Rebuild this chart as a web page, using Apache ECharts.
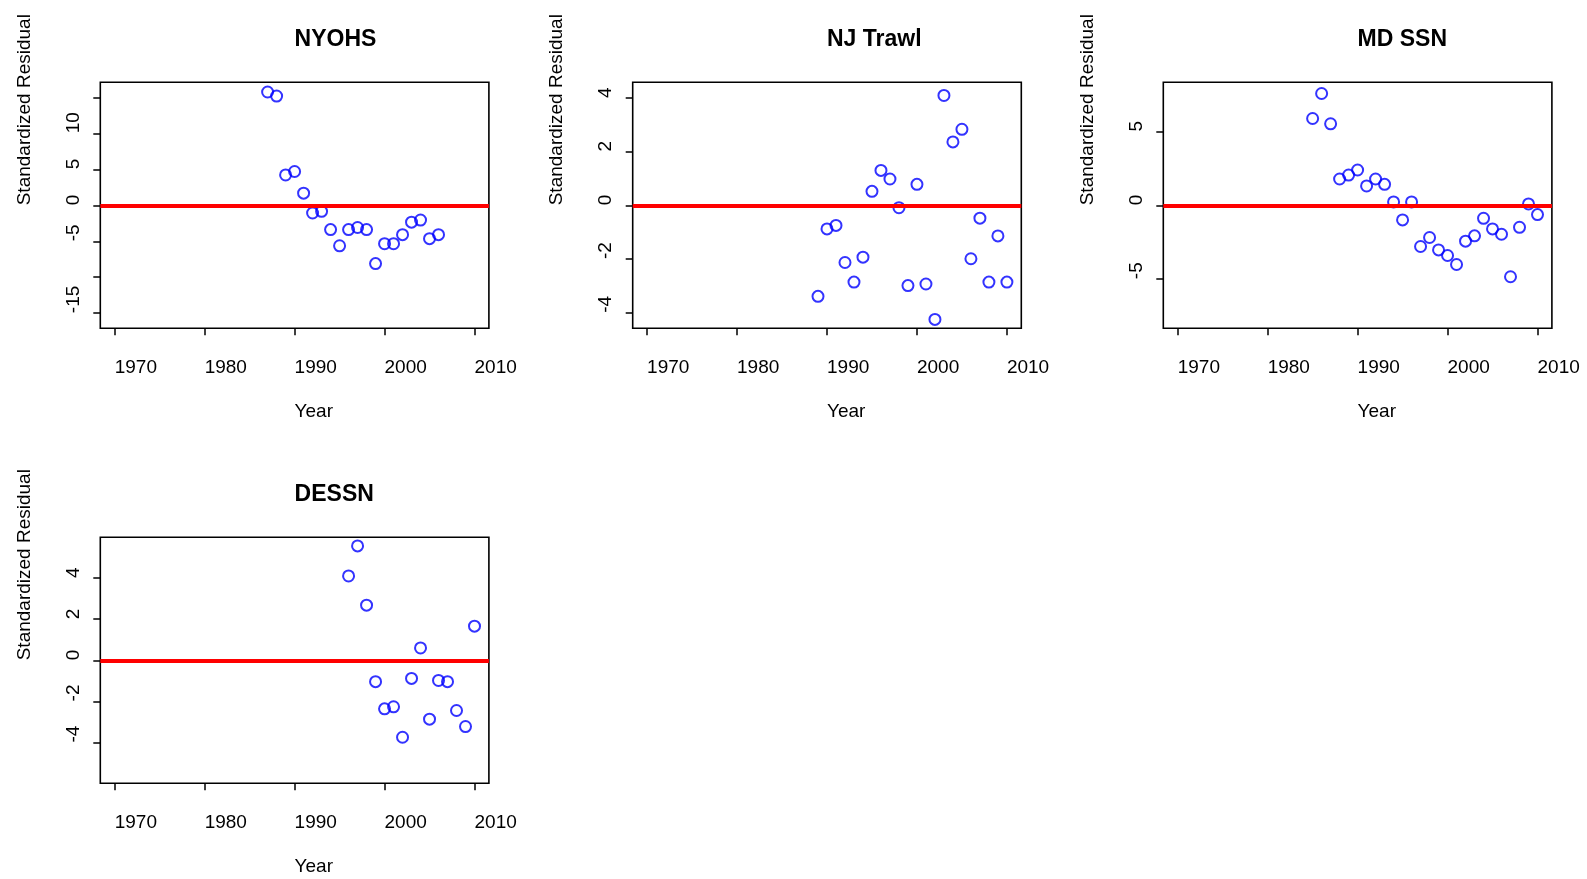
<!DOCTYPE html>
<html>
<head>
<meta charset="utf-8">
<title>Standardized Residuals by Survey</title>
<script src="https://cdn.jsdelivr.net/npm/echarts@6/dist/echarts.min.js"></script>
<style>
  html, body { margin: 0; padding: 0; background: #fff; }
  #chart { width: 1587px; height: 879px; }
</style>
</head>
<body>
<div id="chart"></div>
<script>
// Survey names
const surveyNames = ['NYOHS', 'NJ Trawl', 'MD SSN', 'DESSN'];

// Years and standardized residuals per survey
const nyohsYears = [1987, 1988, 1989, 1990, 1991, 1992, 1993, 1994, 1995, 1996,
                    1997, 1998, 1999, 2000, 2001, 2002, 2003, 2004, 2005, 2006];
const nyohsResid = [15.75, 15.19, 4.22, 4.70, 1.69, -1.07, -0.84, -3.38, -5.63, -3.38,
                    -3.09, -3.38, -8.10, -5.34, -5.34, -4.08, -2.34, -2.05, -4.64, -4.08];

const njYears = [1989, 1990, 1991, 1992, 1993, 1994, 1995, 1996, 1997, 1998, 1999,
                 2000, 2001, 2002, 2003, 2004, 2005, 2006, 2007, 2008, 2009, 2010];
const njResid = [-3.39, -0.88, -0.75, -2.13, -2.86, -1.93, 0.52, 1.30, 0.98, -0.09, -2.99,
                 0.78, -2.93, -4.25, 4.09, 2.36, 2.83, -1.99, -0.48, -2.86, -1.14, -2.86];

const mdYears = [1985, 1986, 1987, 1988, 1989, 1990, 1991, 1992, 1993, 1994, 1995, 1996, 1997,
                 1998, 1999, 2000, 2001, 2002, 2003, 2004, 2005, 2006, 2007, 2008, 2009, 2010];
const mdResid = [5.88, 7.57, 5.52, 1.78, 2.05, 2.39, 1.31, 1.78, 1.42, 0.23, -0.99, 0.23, -2.79,
                 -2.18, -3.02, -3.40, -4.01, -2.43, -2.07, -0.88, -1.60, -1.96, -4.84, -1.49, 0.09, -0.63];

const desYears = [1996, 1997, 1998, 1999, 2000, 2001, 2002, 2003, 2004, 2005,
                  2006, 2007, 2008, 2009, 2010];
const desResid = [4.10, 5.56, 2.68, -1.04, -2.36, -2.26, -3.74, -0.88, 0.60, -2.86,
                  -0.98, -1.04, -2.44, -3.22, 1.66];

// Axis ticks and tick labels
const yearTicks = [1970, 1980, 1990, 2000, 2010];
const yTicksList = [
  [-15, -10, -5, 0, 5, 10, 15],
  [-4, -2, 0, 2, 4],
  [-5, 0, 5],
  [-4, -2, 0, 2, 4]
];
const yLabelsList = [
  [-15, -5, 0, 5, 10],
  [-4, -2, 0, 2, 4],
  [-5, 0, 5],
  [-4, -2, 0, 2, 4]
];
const yLimits = [17.1, 4.58, 8.33, 5.98];
const xLimits = [1968.4, 2011.6];

const yearSets = [nyohsYears, njYears, mdYears, desYears];
const residSets = [nyohsResid, njResid, mdResid, desResid];

// Panel boxes (pixels)
const panels = [
  { left: 100.3, top: 82.3 },
  { left: 632.7, top: 82.3 },
  { left: 1163.3, top: 82.3 },
  { left: 100.3, top: 537.3 }
];
const boxW = 388.6, boxH = 246;

const FONT = '"Liberation Sans", Arial, Helvetica, sans-serif';
const plain = v => String(v);

const chart = echarts.init(document.getElementById('chart'), null, { renderer: 'canvas' });

const option = {
  backgroundColor: '#ffffff',
  animation: false,
  textStyle: { fontFamily: FONT, color: '#000' },
  title: panels.map((p, i) => ({
    text: surveyNames[i],
    left: p.left + boxW / 2,
    top: p.top - 54,
    padding: 0,
    textAlign: 'left',
    textStyle: { fontFamily: FONT, fontWeight: 'bold', fontSize: 23, color: '#000' }
  })),
  grid: panels.map(p => ({
    left: p.left, top: p.top, width: boxW, height: boxH,
    show: true, borderColor: '#000', borderWidth: 1.6,
    backgroundColor: 'transparent',
    containLabel: false,
    outerBoundsMode: 'none'
  })),
  xAxis: panels.map((p, i) => ({
    type: 'value',
    gridIndex: i,
    position: 'bottom',
    min: xLimits[0], max: xLimits[1],
    name: 'Year',
    nameLocation: 'middle',
    nameGap: 74,
    nameTextStyle: { fontFamily: FONT, fontSize: 19, color: '#000', align: 'left', verticalAlign: 'top' },
    axisLine: { show: false, onZero: false },
    axisTick: { show: true, inside: false, length: 7, customValues: yearTicks,
                lineStyle: { color: '#000', width: 1.5 } },
    axisLabel: { show: true, margin: 30, customValues: yearTicks, formatter: plain,
                 fontFamily: FONT, fontSize: 19, color: '#000', align: 'left', verticalAlign: 'top' },
    splitLine: { show: false }
  })),
  yAxis: panels.map((p, i) => ({
    type: 'value',
    gridIndex: i,
    position: 'left',
    min: -yLimits[i], max: yLimits[i],
    name: 'Standardized Residual',
    nameLocation: 'middle',
    nameRotate: 90,
    nameGap: 66,
    nameTextStyle: { fontFamily: FONT, fontSize: 19, color: '#000', align: 'left' },
    axisLine: { show: false, onZero: false },
    axisTick: { show: true, inside: false, length: 7, customValues: yTicksList[i],
                lineStyle: { color: '#000', width: 1.5 } },
    axisLabel: { show: true, margin: 17, rotate: 90, customValues: yLabelsList[i], formatter: plain,
                 fontFamily: FONT, fontSize: 19, color: '#000', align: 'left' },
    splitLine: { show: false }
  })),
  series: panels.map((p, i) => ({
    type: 'scatter',
    xAxisIndex: i,
    yAxisIndex: i,
    symbol: 'circle',
    symbolSize: 11,
    itemStyle: { color: 'rgba(0,0,0,0)', borderColor: '#0000ff', borderWidth: 2 },
    data: yearSets[i].map((y, k) => [y, residSets[i][k]]),
    markLine: {
      silent: true,
      symbol: ['none', 'none'],
      label: { show: false },
      lineStyle: { color: '#ff0000', width: 3.8, type: 'solid' },
      data: [{ yAxis: 0 }]
    },
    z: 3
  }))
};

chart.setOption(option);
</script>
</body>
</html>
